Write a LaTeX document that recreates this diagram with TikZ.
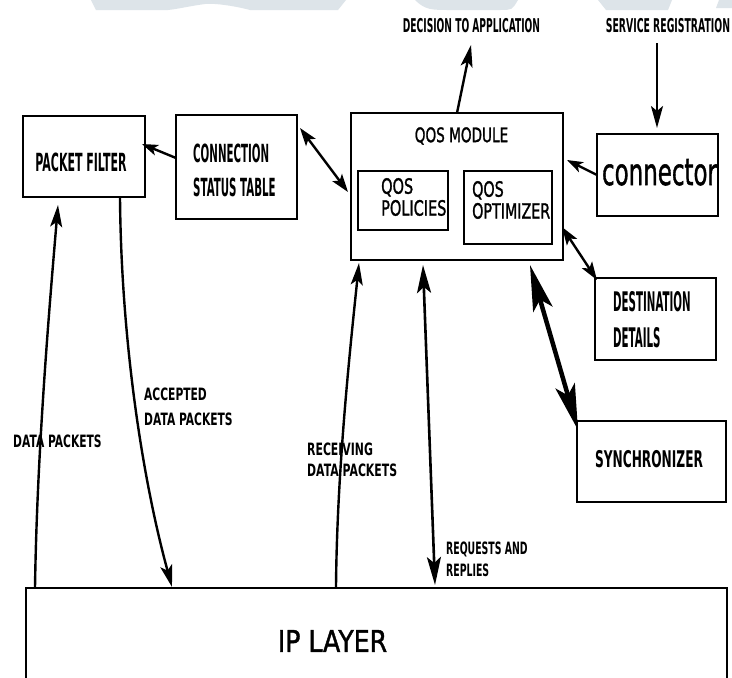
\documentclass[tikz,border=0pt]{standalone}
\usepackage{fontspec}
\usepackage{graphicx}
\setmainfont{DejaVu Sans}
\newfontfamily\med[FakeBold=1.5]{DejaVu Sans}
\usetikzlibrary{arrows.meta}
\newcommand{\sx}[2]{\scalebox{#1}[1]{#2}}
\newcommand{\fs}[2]{\fontsize{#1}{#2}\selectfont}
\definecolor{wm}{HTML}{DDE4E9}
\begin{document}
\begin{tikzpicture}[x=1pt,y=-1pt,
  box/.style={draw=black, line width=2.8pt, inner sep=0pt},
  lbl/.style={inner sep=0pt, font=\bfseries},
  rl/.style={inner sep=0pt, font=\med},
  arr/.style={line width=2.4pt, -{Stealth[length=22pt,width=12pt,inset=5pt]}},
  sarr/.style={line width=2.4pt, -{Stealth[length=16pt,width=11pt,inset=4pt]}},
  darr/.style={line width=2.4pt, {Stealth[length=18pt,width=12pt,inset=4pt]}-{Stealth[length=18pt,width=12pt,inset=4pt]}},
  larr/.style={line width=2.6pt, {Stealth[length=28pt,width=14pt,inset=6pt]}-{Stealth[length=28pt,width=14pt,inset=6pt]}},
  tarr/.style={line width=4.5pt, {Stealth[length=46pt,width=20pt,inset=10pt]}-{Stealth[length=46pt,width=20pt,inset=10pt]}},
]
\useasboundingbox (0,0) rectangle (732,678);
\clip (0,0) rectangle (732,678);
\fill[white] (0,0) rectangle (732,678);
% watermark
\fill[wm] (91,0) -- (346,0) -- (338,10) -- (250,10) .. controls (235,6) and (215,3) .. (205,4) .. controls (190,6) and (178,9) .. (168,10) -- (96,10) -- cycle;
\fill[wm] (415,0) .. controls (425,10) and (432,10) .. (450,10) -- (500,10) .. controls (512,10) .. (518,0) -- cycle;
\fill[wm] (598,0) -- (672,0) -- (668,10) -- (606,10) -- cycle;
\fill[wm] (719,0) -- (732,0) -- (732,8) -- (716,8) -- cycle;

% boxes
\node[box, minimum width=122, minimum height=81] (pf) at (84,156.5) {};
\node[box, minimum width=121, minimum height=104] (cst) at (236.5,167) {};
\node[box, minimum width=212, minimum height=147] (qos) at (457,186.5) {};
\node[box, minimum width=90, minimum height=59] (pol) at (403,200.5) {};
\node[box, minimum width=88, minimum height=73] (opt) at (508,207.5) {};
\node[box, minimum width=121, minimum height=82] (conn) at (657.5,175) {};
\node[box, minimum width=121, minimum height=82] (dest) at (655.5,319) {};
\node[box, minimum width=149, minimum height=81] (sync) at (651.5,461.5) {};
\node[box, minimum width=701, minimum height=130] (ip) at (376.5,653) {};

% texts
\node[lbl] (dec) at (471.5,26) {\sx{.48}{\fs{19}{22}DECISION TO APPLICATION}};
\node[lbl] (srv) at (668,26) {\sx{.49}{\fs{19}{22}SERVICE REGISTRATION}};
\node[lbl] (pft) at (81,162.5) {\sx{.44}{\fs{25}{30}PACKET FILTER}};
\node[lbl, anchor=west] (cstt) at (193,173) {\sx{.41}{\fs{25}{34}\begin{tabular}{@{}l@{}}CONNECTION\\STATUS TABLE\end{tabular}}};
\node[rl] (qosl) at (461.5,136) {\sx{.68}{\fs{20}{24}QOS MODULE}};
\node[rl, anchor=west] (polt) at (381,200) {\sx{.69}{\fs{21}{21}\begin{tabular}{@{}l@{}}QOS\\POLICIES\end{tabular}}};
\node[rl, anchor=west] (optt) at (472,203) {\sx{.68}{\fs{21}{21}\begin{tabular}{@{}l@{}}QOS\\OPTIMIZER\end{tabular}}};
\node[rl, anchor=base] (connt) at (659.5,185) {\sx{.62}{\fs{37}{40}connector}};
\node[lbl, anchor=west] (destt) at (613,322) {\sx{.38}{\fs{27}{36}\begin{tabular}{@{}l@{}}DESTINATION\\DETAILS\end{tabular}}};
\node[lbl] (synct) at (649,459) {\sx{.53}{\fs{23}{26}SYNCHRONIZER}};
\node[lbl, anchor=west] (dpl) at (13,441) {\sx{.63}{\fs{17}{20}DATA PACKETS}};
\node[lbl, anchor=west] (accl) at (144,407.5) {\sx{.63}{\fs{17}{25}\begin{tabular}{@{}l@{}}ACCEPTED\\DATA PACKETS\end{tabular}}};
\node[lbl, anchor=west] (recl) at (307,462) {\sx{.64}{\fs{17}{21}\begin{tabular}{@{}l@{}}RECEIVING\\DATA PACKETS\end{tabular}}};
\node[lbl, anchor=west] (reql) at (446,561) {\sx{.55}{\fs{17}{22}\begin{tabular}{@{}l@{}}REQUESTS AND\\REPLIES\end{tabular}}};
\node[rl] (ipt) at (332.5,641) {\sx{.84}{\fs{30}{34}IP LAYER}};

% connector end points
\coordinate (qtop) at (457,113);
\coordinate (dectip) at (471,45);
\coordinate (srvs) at (657,43);
\coordinate (conntop) at (657,128);
\coordinate (connw) at (597,175);
\coordinate (qosr) at (567,160);
\coordinate (cstw) at (176,158);
\coordinate (pfe) at (142,144);
\coordinate (cstne) at (300,128);
\coordinate (qosw) at (348,192);
\coordinate (optse) at (562,227);
\coordinate (destnw) at (597,280);
\coordinate (qosb) at (530,265);
\coordinate (syncnw) at (578,430);
\coordinate (ipa) at (35,588);
\coordinate (pfa) at (58,205);
\coordinate (pfb) at (120,197);
\coordinate (ipb) at (172,587);
\coordinate (ipc) at (336,587);
\coordinate (qosc) at (359,263);
\coordinate (qosd) at (423,265);
\coordinate (ipd) at (435,585);

% connectors
\draw[arr] (qtop) -- (dectip);
\draw[arr] (srvs) -- (conntop);
\draw[sarr] (connw) -- (qosr);
\draw[sarr] (cstw) -- (pfe);
\draw[darr] (cstne) -- (qosw);
\draw[darr] (optse) -- (destnw);
\draw[tarr] (qosb) -- (syncnw);
\draw[arr] (ipa) .. controls (37,450) and (50,300) .. (pfa);
\draw[arr] (pfb) .. controls (121,330) and (140,470) .. (ipb);
\draw[arr] (ipc) .. controls (337,470) and (350,350) .. (qosc);
\draw[larr] (qosd) -- (ipd);
\end{tikzpicture}
\end{document}
